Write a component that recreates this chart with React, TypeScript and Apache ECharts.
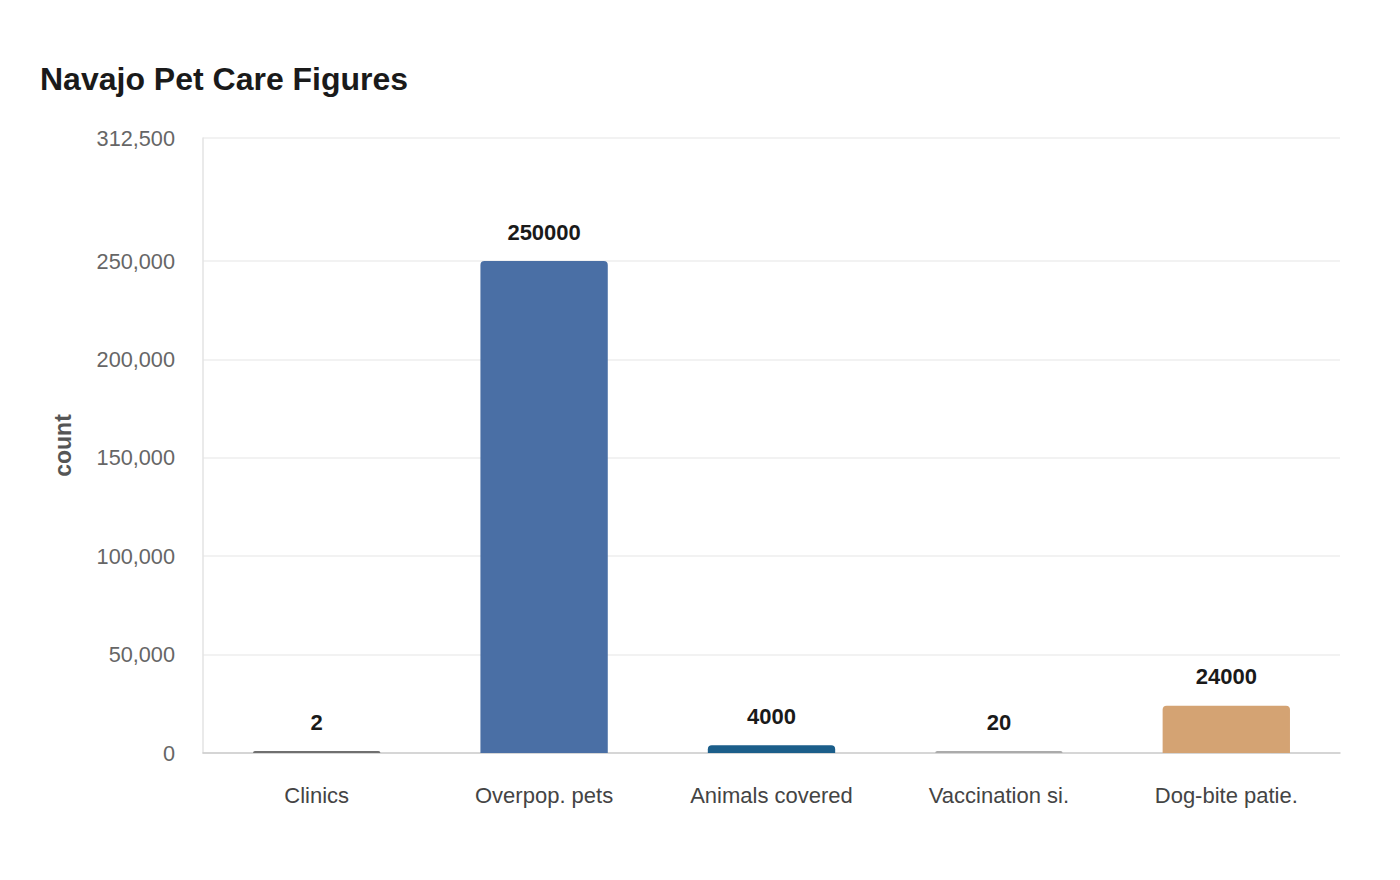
import { useEffect, useRef } from 'react';
import * as echarts from 'echarts';

const CATEGORIES = ['Clinics', 'Overpop. pets', 'Animals covered', 'Vaccination si.', 'Dog-bite patie.'];
const VALUES = [2, 250000, 4000, 20, 24000];
const BAR_COLORS = ['#707070', '#4a6fa5', '#1b5e8a', '#ababab', '#d4a373'];
const Y_TICKS = [0, 50000, 100000, 150000, 200000, 250000, 312500];

const FONT = '"Liberation Sans", Arial, sans-serif';

export default function App() {
  const ref = useRef<HTMLDivElement>(null);

  useEffect(() => {
    document.body.style.margin = '0';
    if (!ref.current) return;
    const chart = echarts.init(ref.current, undefined, { renderer: 'svg' });
    chart.setOption({
      animation: false,
      backgroundColor: '#fff',
      textStyle: { fontFamily: FONT },
      title: {
        text: 'Navajo Pet Care Figures',
        left: 35,
        top: 58,
        textStyle: { fontSize: 32, fontWeight: 'bold', color: '#1a1a1a', fontFamily: FONT },
      },
      grid: { left: 203, right: 60, top: 138, bottom: 127, containLabel: false },
      xAxis: {
        type: 'category',
        data: CATEGORIES,
        axisLine: { lineStyle: { color: '#cccccc', width: 1.5 } },
        axisTick: { show: false },
        axisLabel: { color: '#444', fontSize: 22, margin: 31, fontFamily: FONT },
      },
      yAxis: {
        type: 'value',
        min: 0,
        max: 312500,
        name: 'count',
        nameLocation: 'middle',
        nameGap: 129,
        nameTextStyle: { color: '#555', fontSize: 23, fontWeight: 'bold', fontFamily: FONT },
        axisLine: { show: true, lineStyle: { color: '#e3e3e3', width: 1.5 } },
        axisTick: { show: false, customValues: Y_TICKS },
        axisLabel: {
          customValues: Y_TICKS,
          color: '#666',
          fontSize: 21.7,
          margin: 28,
          fontFamily: FONT,
          formatter: (v: number) => v.toLocaleString('en-US'),
        },
        splitLine: { show: true, lineStyle: { color: '#eeeeee', width: 1.5 } },
      },
      series: [
        {
          type: 'bar',
          barWidth: '56%',
          barMinHeight: 2,
          data: VALUES.map((v, i) => ({
            value: v,
            itemStyle: { color: BAR_COLORS[i], borderRadius: [4, 4, 0, 0] },
          })),
          label: {
            show: true,
            position: 'top',
            distance: 18,
            color: '#1a1a1a',
            fontSize: 22,
            fontWeight: 'bold',
            fontFamily: FONT,
          },
        },
      ],
    });
    return () => chart.dispose();
  }, []);

  return <div ref={ref} style={{ width: 1400, height: 880 }} />;
}
